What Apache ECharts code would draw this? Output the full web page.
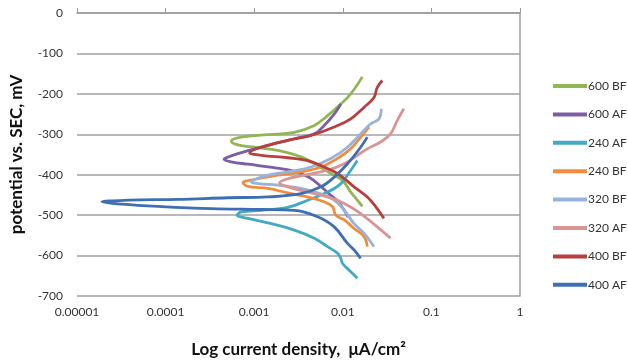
<!DOCTYPE html>
<html>
<head>
<meta charset="utf-8">
<script src="https://cdn.jsdelivr.net/npm/echarts@6/dist/echarts.min.js"></script>
<style>
  html, body { margin: 0; padding: 0; background: #fff; }
  #tafelChart { width: 628px; height: 364px; }
</style>
</head>
<body>
<div id="tafelChart"></div>
<script>
// 数据：[电流密度 μA/cm², 电位 mV]
var seriesNames = ['600 BF', '600 AF', '240 AF', '240 BF', '320 BF', '320 AF', '400 BF', '400 AF'];
var seriesColors = ['#93b654', '#7b5ea3', '#44a9c2', '#f28c3c', '#97b3da', '#d99594', '#b7403d', '#3e6fb2'];
var yTicks = [0, -100, -200, -300, -400, -500, -600, -700];
var xTicks = ['0.00001', '0.0001', '0.001', '0.01', '0.1', '1'];

var s600BF = [[0.0166,-158],[0.0123,-200],[0.0095,-225],[0.00673,-254],[0.00477,-278],[0.00284,-295],[0.00143,-301],[0.000715,-307],[0.000552,-317],[0.000655,-326],[0.00101,-332],[0.00185,-340],[0.00337,-356],[0.00519,-377],[0.00733,-397],[0.0099,-414],[0.0123,-443],[0.0146,-463],[0.0166,-478]];
var s600AF = [[0.0095,-225],[0.0080,-250],[0.00616,-278],[0.00477,-299],[0.00284,-311],[0.0012,-332],[0.000655,-348],[0.000484,-358],[0.000456,-362],[0.00055,-368],[0.00085,-374],[0.0016,-382],[0.0028,-391],[0.0042,-407],[0.0056,-428],[0.0068,-445],[0.0087,-465],[0.0105,-490],[0.0115,-505]];
var s240AF = [[0.0146,-365],[0.0123,-389],[0.0095,-422],[0.00673,-443],[0.00401,-463],[0.00239,-481],[0.0012,-488],[0.000715,-492],[0.000644,-500],[0.00085,-508],[0.00143,-519],[0.00284,-537],[0.00477,-557],[0.00673,-578],[0.0087,-594],[0.0095,-607],[0.0099,-619],[0.0123,-640],[0.0146,-656]];
var s240BF = [[0.0198,-282],[0.0159,-307],[0.0123,-336],[0.0087,-360],[0.00566,-381],[0.00337,-393],[0.00185,-401],[0.0011,-410],[0.000747,-420],[0.00085,-429],[0.00143,-434],[0.00239,-445],[0.00401,-455],[0.00616,-467],[0.00766,-479],[0.00834,-500],[0.0104,-512],[0.0134,-533],[0.0174,-553],[0.0189,-578]];
var s320BF = [[0.0272,-237],[0.0256,-262],[0.0207,-274],[0.0159,-299],[0.0113,-332],[0.00733,-360],[0.00437,-381],[0.00239,-393],[0.00143,-401],[0.00101,-412],[0.000925,-418],[0.0011,-422],[0.00185,-426],[0.00337,-434],[0.00566,-447],[0.0080,-463],[0.0104,-488],[0.0134,-521],[0.0174,-545],[0.0225,-578]];
var s320AF = [[0.0489,-237],[0.0411,-266],[0.0346,-299],[0.0267,-319],[0.0189,-336],[0.0146,-352],[0.0104,-373],[0.00673,-389],[0.00368,-401],[0.00239,-410],[0.00193,-420],[0.00239,-430],[0.00401,-443],[0.00673,-455],[0.0104,-471],[0.0159,-496],[0.0245,-529],[0.0346,-557]];
var s400BF = [[0.0279,-167],[0.0245,-184],[0.0225,-209],[0.0174,-233],[0.0123,-262],[0.0080,-282],[0.00437,-303],[0.00239,-315],[0.0012,-332],[0.000888,-346],[0.0012,-352],[0.00239,-358],[0.00401,-365],[0.00616,-381],[0.0087,-397],[0.0134,-430],[0.0189,-455],[0.0235,-479],[0.0291,-508]];
var s400AF = [[0.0189,-307],[0.0159,-332],[0.0113,-373],[0.0080,-406],[0.00566,-430],[0.00337,-447],[0.00143,-455],[0.000506,-457],[0.000139,-461],[0.0000381,-463],[0.0000191,-467],[0.0000321,-473],[0.0000901,-479],[0.000329,-484],[0.0012,-486],[0.00284,-488],[0.00519,-504],[0.0080,-529],[0.0113,-570],[0.0134,-586],[0.0159,-607]];

var seriesData = [s600BF, s600AF, s240AF, s240BF, s320BF, s320AF, s400BF, s400AF];

var chart = echarts.init(document.getElementById('tafelChart'));
var lineSeries = seriesNames.map(function (name, i) {
	return {
		name: name,
		type: 'line',
		data: seriesData[i],
		smooth: 0.4,
		showSymbol: false,
		lineStyle: { width: 2.8, color: seriesColors[i] },
		itemStyle: { color: seriesColors[i] }
	};
});

var option = {
	animation: false,
	textStyle: { fontFamily: 'Lato' },
	grid: { left: 75, right: 108, top: 13, bottom: 68 },
	legend: {
		data: seriesNames,
		orient: 'vertical',
		left: 548,
		top: 75,
		itemWidth: 34,
		itemHeight: 4,
		itemGap: 16.4,
		icon: 'rect',
		textStyle: { fontSize: 12, color: '#333', padding: [0, 0, 0, -4] }
	},
	xAxis: [{
		type: 'log',
		logBase: 10,
		min: 0.00001,
		max: 1,
		position: 'bottom',
		axisLine: { show: false },
		axisTick: { show: false },
		splitLine: { show: false },
		axisLabel: {
			fontSize: 12,
			color: '#333',
			margin: 10,
			formatter: function (v) {
				var idx = Math.round(Math.log10(v)) + 5;
				return xTicks[idx] || '';
			}
		},
		name: 'Log current density,  μA/cm²',
		nameLocation: 'middle',
		nameGap: 45,
		nameTextStyle: { fontSize: 17, fontWeight: 'bold', color: '#111' }
	}, {
		type: 'log',
		logBase: 10,
		min: 0.00001,
		max: 1,
		position: 'top',
		axisLine: { show: true, lineStyle: { color: '#9a9a9a', width: 1.5 } },
		axisTick: { show: true, inside: false, length: 5, lineStyle: { color: '#9a9a9a' } },
		axisLabel: { show: false },
		splitLine: { show: false }
	}],
	yAxis: [{
		type: 'value',
		min: -700,
		max: 0,
		interval: 100,
		axisLine: { show: false },
		axisTick: { show: false },
		splitLine: { show: true, lineStyle: { color: '#a0a0a0', width: 1.5 } },
		axisLabel: {
			fontSize: 12,
			color: '#333',
			margin: 14,
			formatter: function (v) {
				return yTicks.indexOf(v) >= 0 ? String(v) : '';
			}
		},
		name: 'potential vs. SEC, mV',
		nameLocation: 'middle',
		nameGap: 52,
		nameTextStyle: { fontSize: 17, fontWeight: 'bold', color: '#111' }
	}, {
		type: 'value',
		min: -700,
		max: 0,
		position: 'right',
		axisLine: { show: true, lineStyle: { color: '#a0a0a0', width: 1.5 } },
		axisTick: { show: false },
		axisLabel: { show: false },
		splitLine: { show: false }
	}],
	series: lineSeries
};

chart.setOption(option);
</script>
</body>
</html>
